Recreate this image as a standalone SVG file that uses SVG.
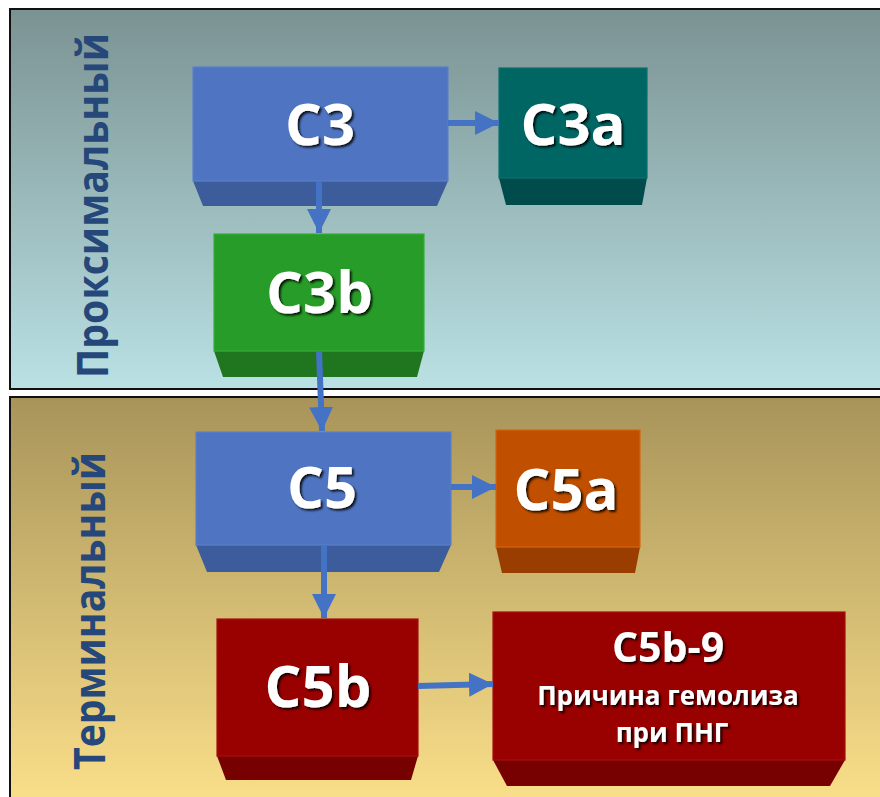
<svg xmlns="http://www.w3.org/2000/svg" width="880" height="797" viewBox="0 0 880 797">
<defs>
<linearGradient id="gTop" x1="0" y1="0" x2="0" y2="1">
<stop offset="0" stop-color="#7b9292"/>
<stop offset="1" stop-color="#bae1e4"/>
</linearGradient>
<linearGradient id="gBot" x1="0" y1="0" x2="0" y2="1">
<stop offset="0" stop-color="#a8945a"/>
<stop offset="1" stop-color="#fbe08a"/>
</linearGradient>
<filter id="sh" x="-20%" y="-20%" width="140%" height="140%">
<feDropShadow dx="2" dy="2" stdDeviation="1" flood-color="#000" flood-opacity="0.85"/>
</filter>
<marker id="ah" viewBox="0 0 24 24" markerWidth="24" markerHeight="24" markerUnits="userSpaceOnUse" refX="24" refY="12" orient="auto">
<path d="M0,0 L24,12 L0,24 z" fill="#4472c4"/>
</marker>
</defs>
<style>
.lbl{font-family:"Open Sans","Liberation Sans",sans-serif;font-weight:bold;fill:#fff;text-anchor:middle;filter:url(#sh)}
.big{font-size:58px}
.side{font-family:"Open Sans","Liberation Sans",sans-serif;font-weight:bold;fill:#25477a;font-size:43px;text-anchor:middle}
.conn{stroke:#4472c4;stroke-width:6;fill:none;marker-end:url(#ah)}
.front{stroke-width:1.2}
</style>
<rect width="880" height="797" fill="#fff"/>
<g id="panel-proximal">
<rect x="10" y="9" width="880" height="380" fill="url(#gTop)" stroke="#111" stroke-width="2"/>
<text class="side" transform="translate(108,205.5) rotate(-90)" textLength="345" lengthAdjust="spacingAndGlyphs">Проксимальный</text>
</g>
<g id="panel-terminal">
<rect x="10" y="397" width="880" height="410" fill="url(#gBot)" stroke="#111" stroke-width="2"/>
<text class="side" transform="translate(105,611) rotate(-90)" textLength="318" lengthAdjust="spacingAndGlyphs">Терминальный</text>
</g>
<g id="node-c3">
<polygon points="193,181 448,181 437,206 203,206" fill="#3d5c9b"/>
<rect class="front" x="193" y="67" width="255" height="114" fill="#4f74c1" stroke="#5b80cc"/>
<text class="lbl big" x="320" y="145">C3</text>
</g>
<g id="node-c3a">
<polygon points="499,178 647,178 642,205 506,205" fill="#004c4c"/>
<rect class="front" x="499" y="68" width="148" height="110" fill="#006664" stroke="#0a6f6d"/>
<text class="lbl big" x="573" y="145">C3a</text>
</g>
<g id="node-c3b">
<polygon points="214,351 424,351 417,377 223,377" fill="#1f761f"/>
<rect class="front" x="214" y="234" width="210" height="117" fill="#279c28" stroke="#35b035"/>
<text class="lbl big" x="319.5" y="313">C3b</text>
</g>
<g id="node-c5">
<polygon points="196,545 451,545 439,572 207,572" fill="#3d5c9b"/>
<rect class="front" x="196" y="432" width="255" height="113" fill="#4f74c1" stroke="#5b80cc"/>
<text class="lbl big" x="322" y="508">C5</text>
</g>
<g id="node-c5a">
<polygon points="496,547 640,547 635,573 502,573" fill="#9a3d00"/>
<rect class="front" x="496" y="430" width="144" height="117" fill="#c04f00" stroke="#d8650c"/>
<text class="lbl big" x="566" y="510">C5a</text>
</g>
<g id="node-c5b">
<polygon points="217,756 418,756 411,780 226,780" fill="#770000"/>
<rect class="front" x="217" y="619" width="201" height="137" fill="#990000" stroke="#a31010"/>
<text class="lbl big" x="318" y="707">C5b</text>
</g>
<g id="node-c5b9">
<polygon points="493,760 845,760 830,786 507,786" fill="#770000"/>
<rect class="front" x="493" y="612" width="352" height="148" fill="#990000" stroke="#a31010"/>
<text class="lbl" x="668" y="662" font-size="41">C5b-9</text>
<text class="lbl" x="668" y="705" font-size="26">Причина гемолиза</text>
<text class="lbl" x="672" y="742" font-size="26">при ПНГ</text>
</g>
<g id="connectors">
<line class="conn" x1="448" y1="123" x2="499" y2="123"/>
<line class="conn" x1="319" y1="181" x2="319" y2="233"/>
<line class="conn" x1="319" y1="351" x2="322" y2="431"/>
<line class="conn" x1="451" y1="487" x2="496" y2="487"/>
<line class="conn" x1="324" y1="545" x2="324" y2="618"/>
<line class="conn" x1="418" y1="686" x2="493" y2="684"/>
</g>
</svg>
